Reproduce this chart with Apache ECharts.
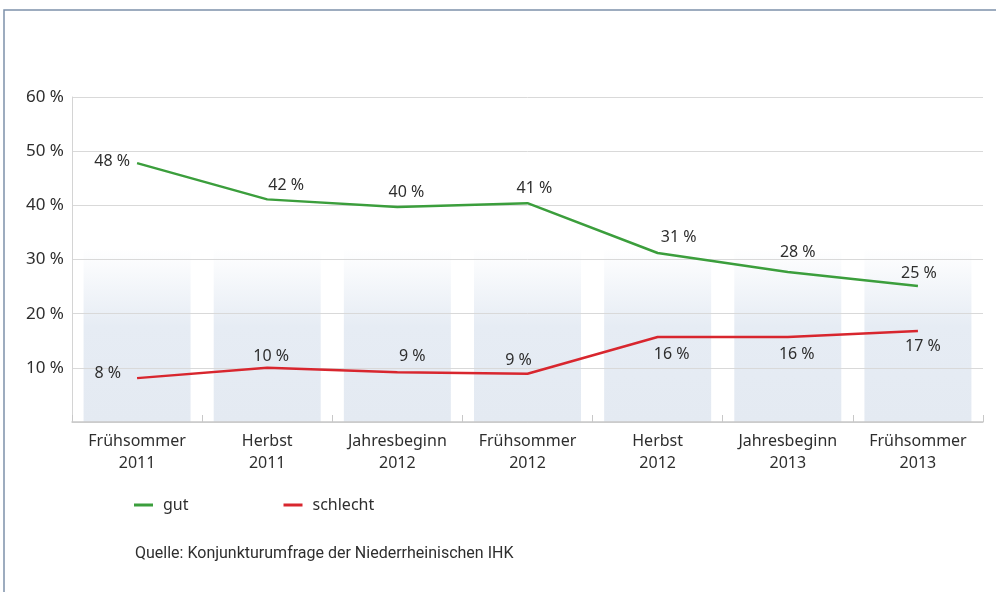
<!DOCTYPE html>
<html>
<head>
<meta charset="utf-8">
<script src="https://cdn.jsdelivr.net/npm/echarts@6/dist/echarts.min.js"></script>
<style>
    html, body { margin: 0; padding: 0; background: #fff; }
    #container { width: 996px; height: 592px; }
</style>
</head>
<body>
<div id="container"></div>
<script type="text/javascript">
    // categories
    var categories = [
        'Frühsommer\n2011', 'Herbst\n2011', 'Jahresbeginn\n2012', 'Frühsommer\n2012',
        'Herbst\n2012', 'Jahresbeginn\n2013', 'Frühsommer\n2013'
    ];
    // values as plotted
    var gutValues = [47.8, 41.1, 39.7, 40.4, 31.2, 27.7, 25.1];
    var schlechtValues = [8.1, 10.0, 9.2, 8.9, 15.7, 15.7, 16.8];
    // printed labels
    var gutLabels = ['48 %', '42 %', '40 %', '41 %', '31 %', '28 %', '25 %'];
    var schlechtLabels = ['8 %', '10 %', '9 %', '9 %', '16 %', '16 %', '17 %'];
    // background bands behind each category
    var bandValues = [32, 32, 32, 32, 32, 32, 32];
    var yTicks = [0, 10, 20, 30, 40, 50, 60];

    // label placement per point (style only)
    var gutLabelPos = [
        {position: 'left', offset: [-2, -2]},
        {position: 'top', offset: [19, -1]},
        {position: 'top', offset: [9, -2]},
        {position: 'top', offset: [7, -2]},
        {position: 'top', offset: [21, -3]},
        {position: 'top', offset: [10, -7]},
        {position: 'top', offset: [1, 0]}
    ];
    var schlechtLabelPos = [
        {position: 'left', offset: [-11, -5]},
        {position: 'top', offset: [4, 2]},
        {position: 'top', offset: [15, -3]},
        {position: 'top', offset: [-9, 0]},
        {position: 'bottom', offset: [14, 4]},
        {position: 'bottom', offset: [9, 4]},
        {position: 'bottom', offset: [5, 2]}
    ];

    function buildData(values, labels, pos) {
        return values.map(function (v, i) {
            return {
                value: v,
                label: {
                    show: true,
                    position: pos[i].position,
                    offset: pos[i].offset,
                    formatter: labels[i]
                }
            };
        });
    }

    var font = '"Noto Sans", sans-serif';
    var labelStyle = {color: '#2e2e2e', fontSize: 16, fontFamily: font};

    var dom = document.getElementById('container');
    var myChart = echarts.init(dom);
    var option = {
        animation: false,
        textStyle: {fontFamily: font},
        graphic: [
            {
                type: 'rect',
                shape: {x: 4, y: 10, width: 1100, height: 700},
                style: {fill: 'none', stroke: '#7d91aa', lineWidth: 1.5},
                silent: true
            },
            {
                type: 'text',
                left: 135,
                top: 546,
                style: {
                    text: 'Quelle: Konjunkturumfrage der Niederrheinischen IHK',
                    fill: '#2e2e2e',
                    fontSize: 16,
                    fontFamily: '"Roboto", sans-serif'
                }
            }
        ],
        legend: {
            left: 129,
            top: 492,
            icon: 'rect',
            itemWidth: 19,
            itemHeight: 3,
            itemGap: 95,
            textStyle: {color: '#2e2e2e', fontSize: 16, fontFamily: font, padding: [0, 0, 0, 5]},
            data: ['gut', 'schlecht']
        },
        grid: {left: 72, right: 13, top: 97, bottom: 170, containLabel: false},
        xAxis: {
            type: 'category',
            data: categories,
            boundaryGap: true,
            axisLine: {show: true, lineStyle: {color: '#c8c8c8', width: 1.5}},
            axisTick: {show: true, inside: true, length: 7, lineStyle: {color: '#c8c8c8'}},
            axisLabel: {color: '#2e2e2e', fontSize: 16, lineHeight: 22, margin: 8, fontFamily: font}
        },
        yAxis: {
            type: 'value',
            min: 0,
            max: 60,
            interval: 10,
            axisLine: {show: true, lineStyle: {color: '#d4d4d4'}},
            axisTick: {show: false},
            splitLine: {lineStyle: {color: '#d9d9d9', width: 1}},
            axisLabel: {
                color: '#2e2e2e', fontSize: 17, margin: 8, fontFamily: font,
                formatter: function (v) { return yTicks.indexOf(v) > 0 ? v + ' %' : ''; }
            }
        },
        series: [
            {
                name: 'band',
                type: 'bar',
                z: -1,
                silent: true,
                barWidth: 107,
                data: bandValues,
                itemStyle: {
                    color: new echarts.graphic.LinearGradient(0, 0, 0, 1, [
                        {offset: 0, color: '#ffffff'},
                        {offset: 0.45, color: '#e6ecf4'},
                        {offset: 1, color: '#e4eaf2'}
                    ])
                }
            },
            {
                name: 'gut',
                type: 'line',
                showSymbol: true,
                symbol: 'circle',
                symbolSize: 0,
                lineStyle: {color: '#3b9e3c', width: 2.5},
                itemStyle: {color: '#3b9e3c'},
                label: labelStyle,
                data: buildData(gutValues, gutLabels, gutLabelPos)
            },
            {
                name: 'schlecht',
                type: 'line',
                showSymbol: true,
                symbol: 'circle',
                symbolSize: 0,
                lineStyle: {color: '#d8262e', width: 2.5},
                itemStyle: {color: '#d8262e'},
                label: labelStyle,
                data: buildData(schlechtValues, schlechtLabels, schlechtLabelPos)
            }
        ]
    };
    myChart.setOption(option);
</script>
</body>
</html>
